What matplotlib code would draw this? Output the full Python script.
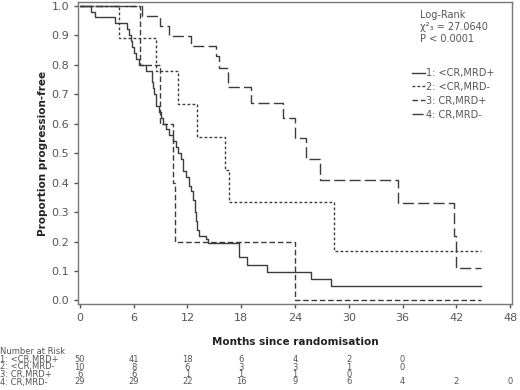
import matplotlib
matplotlib.use("Agg")
import matplotlib.pyplot as plt
from matplotlib.lines import Line2D
from matplotlib.transforms import blended_transform_factory

plt.rcParams["font.family"] = ["DejaVu Sans"]

# Kaplan-Meier step curves (months, proportion progression-free)
t1 = [0, 1.2, 1.7, 3.9, 5.3, 5.5, 5.7, 5.8, 6.0, 6.3, 6.6, 7.4, 8.0, 8.1, 8.2,
      8.3, 8.5, 8.8, 9.1, 9.3, 9.6, 10.0, 10.4, 10.7, 11.0, 11.3, 11.5, 11.85,
      12.2, 12.4, 12.6, 12.8, 13.0, 13.1, 13.3, 14.1, 14.3, 17.8, 18.6, 20.9,
      25.8, 28.0, 44.7]
s1 = [1.0, 0.98, 0.96, 0.94, 0.92, 0.90, 0.88, 0.86, 0.84, 0.82, 0.80, 0.78,
      0.76, 0.74, 0.72, 0.70, 0.66, 0.64, 0.62, 0.60, 0.58, 0.56, 0.54, 0.52,
      0.50, 0.48, 0.44, 0.42, 0.39, 0.37, 0.34, 0.30, 0.27, 0.24, 0.22, 0.21,
      0.195, 0.146, 0.122, 0.098, 0.074, 0.049, 0.049]

t2 = [0, 4.4, 8.5, 11.0, 13.1, 16.2, 16.6, 28.4, 44.7]
s2 = [1.0, 0.889, 0.778, 0.667, 0.556, 0.444, 0.333, 0.167, 0.167]

t3 = [0, 6.7, 8.9, 10.4, 10.6, 24.0, 44.7]
s3 = [1.0, 0.8, 0.6, 0.4, 0.2, 0.0, 0.0]

t4 = [0, 6.9, 8.9, 9.9, 12.4, 15.2, 15.5, 16.5, 19.1, 22.7, 24.0, 25.2, 26.8,
      35.5, 41.7, 41.9, 44.7]
s4 = [1.0, 0.966, 0.931, 0.897, 0.862, 0.83, 0.79, 0.724, 0.67, 0.62, 0.55,
      0.48, 0.41, 0.33, 0.22, 0.11, 0.11]

group_labels = ["1: <CR,MRD+", "2: <CR,MRD-", "3: CR,MRD+", "4: CR,MRD-"]

risk_times = [0, 6, 12, 18, 24, 30, 36, 42, 48]
risk1 = [50, 41, 18, 6, 4, 2, 0]
risk2 = [10, 8, 6, 3, 3, 1, 0]
risk3 = [6, 6, 1, 1, 1, 0]
risk4 = [29, 29, 22, 16, 9, 6, 4, 2, 0]

line_col = "#3c3c3c"
text_col = "#555555"

fig = plt.figure(figsize=(5.2, 3.9), dpi=100)
ax = fig.add_axes([0.15, 0.2205, 0.8346, 0.774])

styles = [
    (t1, s1, "-"),
    (t2, s2, (0, (2.0, 1.6))),
    (t3, s3, (0, (4.0, 2.0))),
    (t4, s4, (0, (8.0, 3.0))),
]
handles = []
for t, s, ls in styles:
    ax.plot(t, s, drawstyle="steps-post", color=line_col, lw=1.0, linestyle=ls)
    handles.append(Line2D([], [], color=line_col, lw=1.0, linestyle=ls))

ax.set_xlim(-0.2, 48.2)
ax.set_ylim(-0.012, 1.012)
ax.set_xticks(risk_times)
ax.set_yticks([i / 10 for i in range(11)])
ax.set_yticklabels([f"{i / 10:.1f}" for i in range(11)])
ax.tick_params(colors=text_col, labelsize=8, length=3, width=1)
for sp in ax.spines.values():
    sp.set_color("#777777")
    sp.set_linewidth(1.0)

ax.set_xlabel("Months since randomisation", fontsize=7.5, fontweight="bold",
              color="#222222", labelpad=10)
ax.set_ylabel("Proportion progression-free", fontsize=7.5, fontweight="bold",
              color="#222222", labelpad=2)

ax.text(0.787, 0.975, "Log-Rank\nχ²₃ = 27.0640\nP < 0.0001", transform=ax.transAxes,
        fontsize=7, color=text_col, va="top", ha="left", linespacing=1.25)

ax.legend(handles, group_labels, loc="upper left", bbox_to_anchor=(0.76, 0.795),
          frameon=False, fontsize=7, handlelength=1.4, handletextpad=0.1,
          labelspacing=0.4, labelcolor=text_col, borderaxespad=0)

# number at risk table
fs = 6
fig.text(0.0, 1 - 352 / 390, "Number at Risk", fontsize=fs, color=text_col, va="center")
trans = blended_transform_factory(ax.transData, fig.transFigure)
rows = [risk1, risk2, risk3, risk4]
row_y = [359.5, 367, 374.5, 382]
for lab, vals, py in zip(group_labels, rows, row_y):
    fig.text(0.0, 1 - py / 390, lab, fontsize=fs, color=text_col, va="center")
    for t, v in zip(risk_times, vals):
        ax.text(t, 1 - py / 390, str(v), transform=trans, fontsize=fs,
                color=text_col, ha="center", va="center")

fig.savefig("out.png", dpi=100)
